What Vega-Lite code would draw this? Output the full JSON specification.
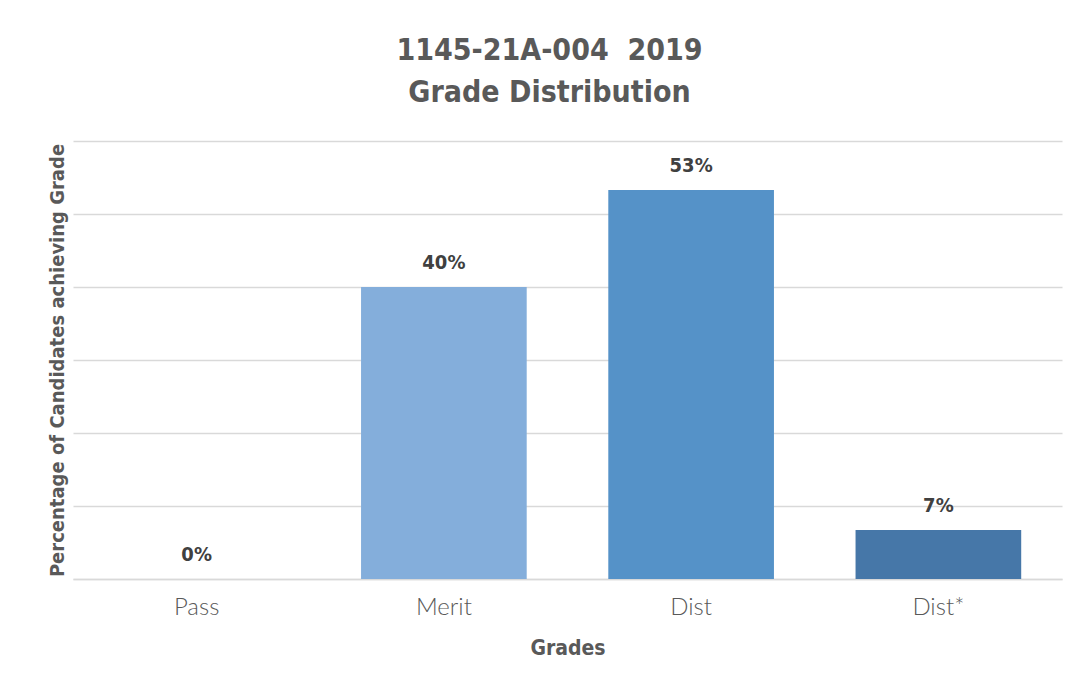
{
  "$schema": "https://vega.github.io/schema/vega-lite/v6.json",
  "width": 989,
  "height": 438,
  "autosize": {"type": "none"},
  "padding": {"left": 73, "top": 141, "right": 19, "bottom": 109},
  "background": "white",
  "title": {
    "text": ["1145-21A-004\u00a0 2019", "Grade Distribution"],
    "anchor": "middle",
    "frame": "group",
    "dx": -18,
    "offset": 33,
    "font": "DejaVu Sans Condensed",
    "fontSize": 30,
    "fontWeight": "bold",
    "color": "#595959",
    "lineHeight": 42
  },
  "data": {
    "values": [
      {"grade": "Pass", "pct": 0},
      {"grade": "Merit", "pct": 0.4},
      {"grade": "Dist", "pct": 0.533},
      {"grade": "Dist*", "pct": 0.067}
    ]
  },
  "encoding": {
    "x": {
      "field": "grade",
      "type": "nominal",
      "sort": null,
      "scale": {"paddingInner": 0.33, "paddingOuter": 0.165},
      "axis": {
        "title": "Grades",
        "titleFont": "DejaVu Sans Condensed",
        "titleFontSize": 21,
        "titleFontWeight": "bold",
        "titleColor": "#595959",
        "titlePadding": 18,
        "labelFont": "Lato",
        "labelFontWeight": 300,
        "labelFontSize": 24,
        "labelColor": "#595959",
        "labelAngle": 0,
        "labelPadding": 16,
        "ticks": false,
        "domain": true,
        "domainColor": "#D9D9D9",
        "domainWidth": 1.5,
        "grid": false
      }
    },
    "y": {
      "field": "pct",
      "type": "quantitative",
      "scale": {"domain": [0, 0.6], "nice": false},
      "axis": {
        "title": "Percentage of Candidates achieving Grade",
        "titleFont": "DejaVu Sans Condensed",
        "titleFontSize": 20,
        "titleFontWeight": "bold",
        "titleColor": "#595959",
        "titlePadding": 6,
        "values": [0, 0.1, 0.2, 0.3, 0.4, 0.5, 0.6],
        "labels": false,
        "ticks": false,
        "domain": false,
        "grid": true,
        "gridColor": "#D9D9D9",
        "gridWidth": 1.5
      }
    }
  },
  "layer": [
    {
      "mark": {"type": "bar"},
      "encoding": {
        "color": {
          "field": "grade",
          "type": "nominal",
          "sort": null,
          "scale": {
            "domain": ["Pass", "Merit", "Dist", "Dist*"],
            "range": ["#A5C3E6", "#84AEDB", "#5592C8", "#4677A8"]
          },
          "legend": null
        }
      }
    },
    {
      "mark": {
        "type": "text",
        "dy": -24,
        "font": "DejaVu Sans Condensed",
        "fontSize": 20,
        "fontWeight": "bold",
        "color": "#404040"
      },
      "encoding": {
        "text": {"field": "pct", "type": "quantitative", "format": ".0%"}
      }
    }
  ],
  "config": {"view": {"stroke": null}}
}
